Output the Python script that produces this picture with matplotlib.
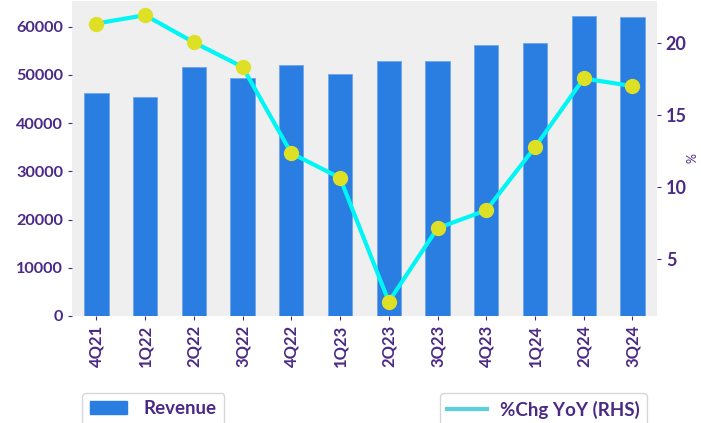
import matplotlib
matplotlib.use('Agg')
import matplotlib.pyplot as plt
import numpy as np
from matplotlib.patches import Patch
from matplotlib.lines import Line2D

quarters = ["4Q21", "1Q22", "2Q22", "3Q22", "4Q22", "1Q23", "2Q23", "3Q23",
            "4Q23", "1Q24", "2Q24", "3Q24"]
revenue = [46200, 45500, 51700, 49400, 52000, 50200, 52900, 52900,
           56300, 56700, 62250, 62050]
chg_yoy = [21.35, 21.93, 20.04, 18.33, 12.34, 10.62, 2.02, 7.13,
           8.37, 12.76, 17.53, 17.0]

txt = '#4b2a85'
plt.rcParams['font.family'] = ['Lato', 'DejaVu Sans']
plt.rcParams['font.weight'] = 'bold'

fig = plt.figure(figsize=(7.01, 4.23), dpi=100)
ax = fig.add_axes([0.1027, 0.253, 0.8343, 0.745])
ax.set_facecolor('#efefef')
x = np.arange(len(quarters))
ax.bar(x, revenue, width=0.5, color='#2a7de1', edgecolor='#6fa5ea', linewidth=0.6)
ax.set_xlim(-0.5, len(quarters) - 0.5)
ax.set_xticks(x)
ax.set_xticklabels(quarters, rotation=90)
for s in ax.spines.values():
    s.set_visible(False)
ax.tick_params(axis='y', colors=txt, labelsize=11.7, length=3)
ax.tick_params(axis='x', colors=txt, labelsize=12, length=3)

ax2 = ax.twinx()
ax2.plot(x, chg_yoy, color='#00f5f5', lw=3, marker='o', markersize=10,
         markerfacecolor='#dde024', markeredgecolor='#dde024')
for s in ax2.spines.values():
    s.set_visible(False)
ax2.tick_params(colors=txt, labelsize=13, length=3)
ax2.set_yticks([5, 10, 15, 20])
ax2.set_ylabel('%', color=txt, fontsize=9)
ax2.yaxis.set_label_coords(1.05, 0.5)

fig.legend(handles=[Patch(color='#2a7de1', label='Revenue')], loc='upper left',
           bbox_to_anchor=(0.117, 0.071), borderaxespad=0, fontsize=13.5,
           labelcolor=txt, handlelength=2, handletextpad=0.9, fancybox=True)
fig.legend(handles=[Line2D([], [], color='#5bcfdc', lw=3, label='%Chg YoY (RHS)')],
           loc='upper right', bbox_to_anchor=(0.923, 0.071), borderaxespad=0,
           fontsize=13.5, labelcolor=txt, handlelength=2.1, handletextpad=0.7, fancybox=True)

fig.savefig('out.png', dpi=100)
